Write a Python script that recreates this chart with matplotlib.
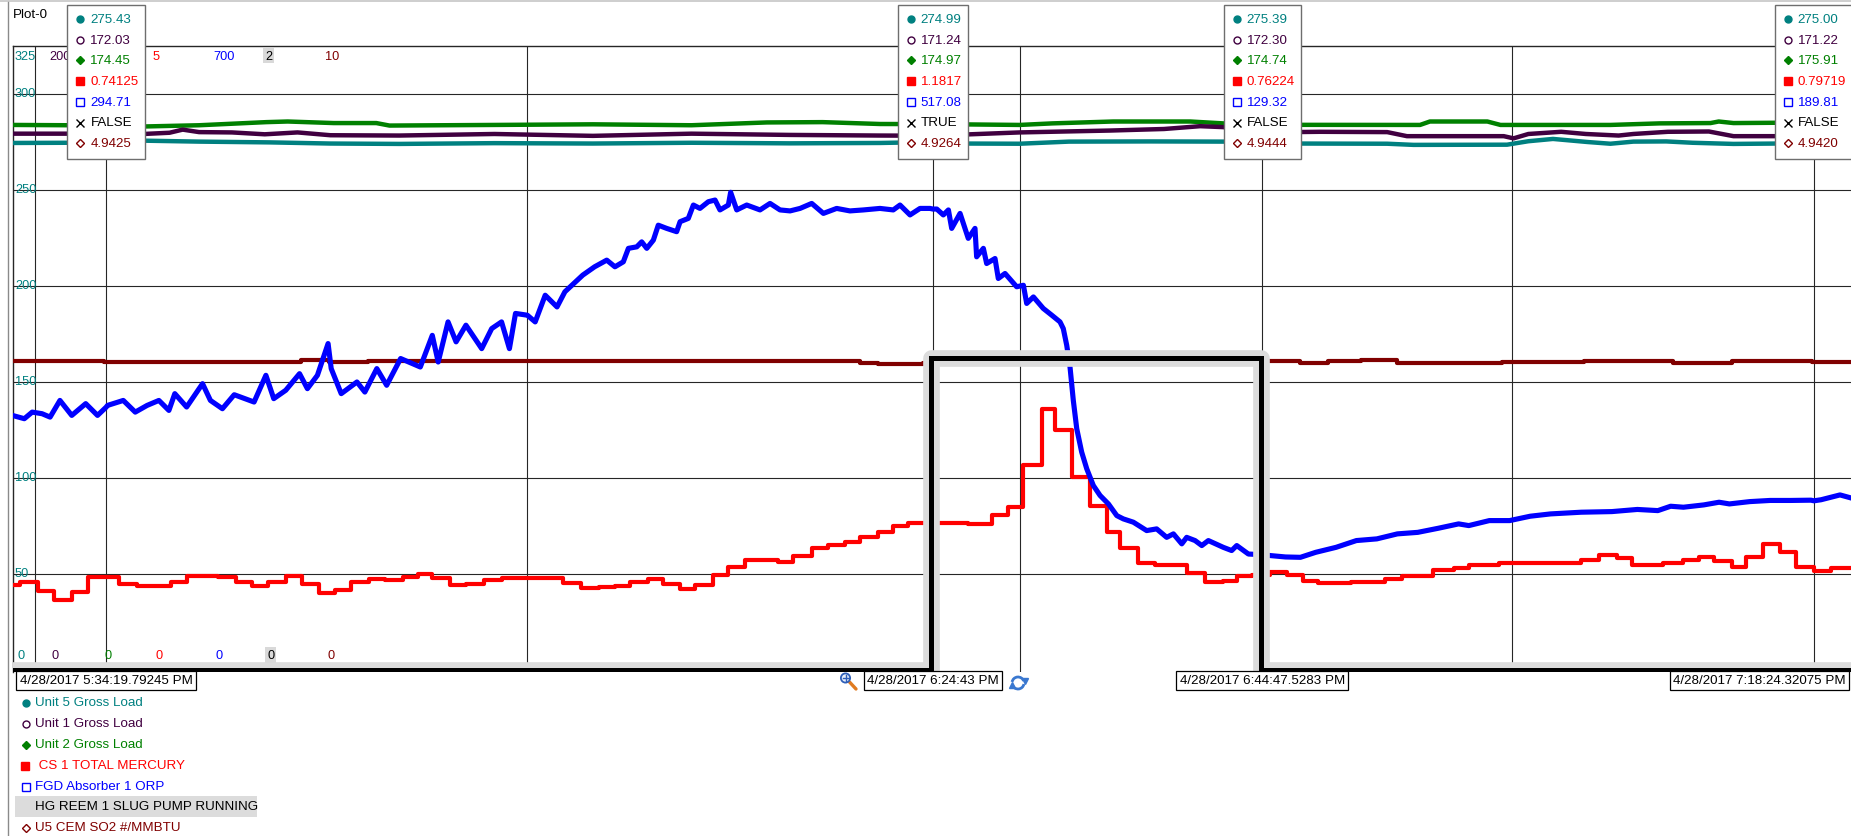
import numpy as np
import matplotlib
matplotlib.use('Agg')
import matplotlib.pyplot as plt
from matplotlib.lines import Line2D
from matplotlib.patches import Rectangle, Circle, Arc
from matplotlib.transforms import IdentityTransform, blended_transform_factory

plt.rcParams['font.family'] = ['Liberation Sans', 'DejaVu Sans']
plt.rcParams['font.size'] = 9.6

W, H = 1851, 837

# pens, in trend order; every scale runs from 0 to its top value
pen_names = ['Unit 5 Gross Load', 'Unit 1 Gross Load', 'Unit 2 Gross Load',
             ' CS 1 TOTAL MERCURY', 'FGD Absorber 1 ORP',
             'HG REEM 1 SLUG PUMP RUNNING', 'U5 CEM SO2 #/MMBTU']
pen_colors = ['#008080', '#400040', '#008000', '#ff0000', '#0000ff', '#000000', '#800000']
pen_top = [325, 200, 200, 5, 700, 2, 10]
pen_step = [False, False, False, True, False, True, True]
pen_marker = ['o', 'o', 'D', 's', 's', 'x', 'D']
pen_filled = [True, False, True, True, False, True, False]
pen_ms = [5, 5, 4, 5.5, 5.5, 5.5, 4.5]

# time = minutes after 5:30 PM
cursor_t = [4.32987, 54.71667, 74.79214, 108.40535]
cursor_stamps = ['4/28/2017 5:34:19.79245 PM', '4/28/2017 6:24:43 PM',
                 '4/28/2017 6:44:47.5283 PM', '4/28/2017 7:18:24.32075 PM']
grid_t = [0, 30, 60, 90]
grid_y = [50, 100, 150, 200, 250, 300]

u5_t = [-1.38, 2.1, 4.32987, 6.6, 10.0, 14.3, 18.0, 22.2, 28.0, 34.0,
        40.0, 46.0, 51.5, 54.71667, 56.5, 60.0, 63.0, 68.0, 72.4, 74.79214,
        76.5, 82.4, 84.0, 89.7, 91.0, 92.5, 94.6, 96.0, 97.4, 99.4,
        101.0, 103.5, 106.2, 108.40535, 110.7]
u5_v = [274.5, 274.6, 275.43, 275.7, 275.2, 274.8, 274.2, 274.0, 274.4, 274.2,
        274.6, 274.3, 274.5, 274.99, 274.2, 274.1, 275.2, 275.3, 275.2, 275.39,
        274.2, 274.1, 273.5, 273.6, 275.4, 276.6, 275.0, 274.1, 275.2, 275.3,
        274.6, 274.0, 274.2, 275.00, 274.4]

u1_t = [-1.38, 2.1, 4.32987, 6.6, 8.2, 9.0, 10.0, 12.0, 14.0, 16.0,
        18.0, 22.2, 28.0, 34.0, 40.0, 46.0, 51.5, 54.71667, 60.0, 65.5,
        68.8, 71.0, 72.4, 74.79214, 78.3, 82.4, 83.6, 89.5, 90.1, 91.0,
        93.0, 94.5, 96.5, 97.4, 99.5, 102.0, 103.5, 106.2, 108.40535, 110.7]
u1_v = [171.9, 171.9, 172.03, 171.8, 172.2, 173.2, 172.4, 172.3, 171.7, 172.3,
        171.4, 171.3, 171.8, 171.2, 171.9, 171.5, 171.3, 171.24, 172.3, 172.9,
        173.4, 174.3, 174.0, 172.30, 172.5, 172.4, 171.1, 171.1, 170.4, 171.8,
        172.5, 171.8, 171.3, 171.8, 172.5, 172.6, 171.1, 171.1, 171.22, 171.2]

u2_t = [-1.38, 2.1, 4.32987, 6.6, 10.0, 14.1, 15.4, 18.2, 20.8, 21.6,
        28.0, 34.0, 40.0, 44.6, 48.0, 51.5, 54.71667, 60.0, 62.0, 65.7,
        70.4, 72.4, 74.79214, 84.4, 85.0, 88.5, 89.3, 96.0, 99.0, 102.1,
        102.6, 103.5, 106.2, 108.40535, 110.7]
u2_v = [174.7, 174.6, 174.45, 174.2, 174.6, 175.6, 175.8, 175.3, 175.3, 174.5,
        174.7, 174.9, 174.6, 175.5, 175.6, 175.0, 174.97, 174.7, 175.2, 175.8,
        175.8, 175.2, 174.74, 174.7, 175.8, 175.8, 174.7, 174.7, 175.2, 175.3,
        175.8, 175.3, 175.4, 175.91, 175.6]

hg_t = [-1.38, -0.89, 0.19, 1.16, 2.24, 3.21, 5.14, 6.23, 8.28, 9.24,
        11.17, 12.26, 13.23, 14.19, 15.28, 16.24, 17.33, 18.29, 19.26, 20.35,
        21.31, 22.40, 23.36, 24.21, 25.29, 26.26, 27.35, 28.43, 32.17, 33.26,
        34.34, 35.34, 36.26, 37.37, 38.29, 39.31, 40.22, 41.33, 42.25, 43.27,
        45.30, 46.21, 47.33, 48.35, 49.36, 50.28, 51.39, 52.30, 53.22, 56.88,
        58.31, 59.27, 60.23, 61.35, 62.17, 63.18, 64.29, 65.31, 66.12, 67.24,
        68.26, 70.19, 71.30, 72.42, 73.23, 74.15, 75.26, 76.30, 77.26, 78.19,
        80.21, 82.24, 83.33, 85.19, 86.44, 87.37, 89.24, 94.22, 95.31, 96.40,
        97.33, 99.20, 100.45, 101.38, 102.31, 103.40, 104.24, 105.27, 106.36, 107.29,
        108.38, 109.47, 110.70]
hg_v = [0.681, 0.702, 0.636, 0.563, 0.622, 0.74125, 0.689, 0.676, 0.702, 0.751,
        0.742, 0.702, 0.676, 0.702, 0.751, 0.689, 0.616, 0.643, 0.707, 0.729,
        0.721, 0.742, 0.769, 0.734, 0.681, 0.689, 0.723, 0.734, 0.697, 0.654,
        0.662, 0.676, 0.702, 0.729, 0.689, 0.649, 0.681, 0.761, 0.823, 0.885,
        0.868, 0.911, 0.975, 1.002, 1.029, 1.069, 1.109, 1.157, 1.1817, 1.171,
        1.240, 1.308, 1.644, 2.091, 1.922, 1.545, 1.312, 1.103, 0.975, 0.857,
        0.842, 0.777, 0.702, 0.716, 0.752, 0.76224, 0.786, 0.761, 0.716, 0.697,
        0.707, 0.729, 0.751, 0.804, 0.815, 0.842, 0.857, 0.885, 0.922, 0.895,
        0.842, 0.857, 0.885, 0.903, 0.871, 0.823, 0.903, 1.011, 0.949, 0.826,
        0.79719, 0.820, 0.820]

orp_t = [-1.38, -0.65, -0.17, 0.43, 0.92, 1.52, 2.24, 3.09, 3.81, 4.32987,
         4.42, 5.38, 6.11, 6.83, 7.55, 8.16, 8.52, 9.24, 10.21, 10.69,
         11.42, 12.14, 13.35, 14.07, 14.55, 15.28, 16.12, 16.60, 17.21, 17.86,
         18.05, 18.66, 19.62, 20.10, 20.83, 21.43, 22.28, 23.48, 24.21, 24.57,
         25.17, 25.66, 26.26, 27.22, 27.83, 28.43, 28.91, 29.28, 30.00, 30.48,
         31.09, 31.81, 32.29, 33.38, 34.10,
         34.84, 35.34, 35.85, 36.16, 36.67, 36.97, 37.28, 37.68, 37.98, 38.49,
         39.10, 39.31, 39.81, 40.12, 40.52, 41.03, 41.44, 41.74, 42.25, 42.39,
         42.76, 43.37, 44.18, 44.79, 45.40, 46.01, 46.62, 47.33, 48.04, 48.85,
         49.66, 50.48, 51.49, 52.30, 52.71, 53.32, 53.93, 54.54, 54.71667, 54.95,
         55.35, 55.66, 55.86, 56.37, 56.87, 57.28, 57.38, 57.79, 57.99, 58.50,
         58.70, 59.11, 59.82, 60.23, 60.43, 60.84, 61.44, 61.96, 62.46, 62.66,
         62.87, 63.07, 63.27, 63.48, 63.78, 64.09, 64.49, 64.90, 65.41, 65.92,
         66.32, 66.93, 67.74, 68.35, 68.96, 69.37, 69.88, 70.18, 70.69, 71.10,
         71.50, 72.41, 72.92, 73.23, 73.94, 74.79214, 75.26, 76.20, 77.11, 78.04,
         79.28, 80.52, 81.77, 83.02, 84.26, 85.51, 86.75, 87.37, 88.62, 89.86,
         91.11, 92.35, 94.22, 96.09, 97.64, 98.89, 99.67, 100.45, 101.69, 102.62,
         103.25, 104.49, 105.73, 106.98, 108.22, 108.40535, 108.84, 109.99, 110.70]
orp_v = [285.6, 281.9, 289.3, 287.5, 283.7, 302.4, 285.6, 298.8, 285.6, 294.71,
         296.8, 302.4, 289.3, 296.8, 302.4, 291.2, 310.0, 295.0, 321.2, 302.4,
         293.1, 308.8, 300.6, 330.6, 304.4, 313.8, 332.4, 315.6, 330.6, 366.2,
         338.1, 310.0, 323.1, 311.8, 338.1, 319.4, 349.4, 339.9, 375.4, 345.5,
         390.5, 368.1, 386.8, 360.5, 383.0, 390.5, 360.5, 400.0, 398.0, 390.5,
         420.4, 407.3, 424.3, 443.0, 452.3,
         459.8, 452.3, 457.9, 473.0, 474.7, 480.3, 473.0, 482.2, 499.0, 495.4,
         491.7, 502.9, 506.6, 521.6, 517.8, 525.3, 527.2, 516.1, 521.6, 535.9,
         516.1, 521.6, 516.1, 523.4, 516.1, 515.0, 517.8, 523.4, 512.2, 517.8,
         515.0, 516.1, 517.8, 516.1, 521.6, 510.5, 517.8, 517.8, 517.08, 517.1,
         510.5, 516.1, 495.4, 512.2, 484.2, 495.4, 463.5, 473.0, 456.0, 461.6,
         439.2, 444.8, 429.9, 431.6, 411.2, 418.5, 405.6, 398.0, 390.5, 383.0,
         364.2, 339.9, 302.5, 270.7, 244.5, 225.7, 207.0, 195.8, 186.3, 173.2,
         169.5, 165.8, 156.4, 158.3, 148.8, 152.7, 141.5, 148.8, 145.2, 139.6,
         145.2, 137.6, 134.0, 139.6, 130.1, 129.32, 128.4, 126.8, 126.4, 132.0,
         137.6, 145.2, 147.1, 152.7, 154.4, 159.0, 163.9, 162.0, 167.6, 167.6,
         172.5, 175.1, 177.0, 177.7, 180.1, 178.8, 183.7, 182.6, 185.2, 188.2,
         186.3, 188.9, 190.2, 190.2, 190.5, 189.81, 191.0, 196.4, 192.8]

pump_t = [-1.38, 54.62, 74.72, 110.70]
pump_v = [0, 1, 0, 0]

so2_t = [-1.38, 4.18, 16.2, 17.9, 20.3, 27.4, 34.4, 50.28, 51.39, 54.1,
         74.7, 77.11, 78.8, 80.8, 83.0, 85.6, 89.4, 94.4, 99.8, 103.4,
         108.3, 110.70]
so2_v = [4.950, 4.9425, 4.965, 4.940, 4.955, 4.945, 4.953, 4.920, 4.900, 4.9264,
         4.9444, 4.920, 4.950, 4.960, 4.925, 4.915, 4.940, 4.953, 4.925, 4.945,
         4.9420, 4.9420]

pen_t = [u5_t, u1_t, u2_t, hg_t, orp_t, pump_t, so2_t]
pen_v = [u5_v, u1_v, u2_v, hg_v, orp_v, pump_v, so2_v]


def fx(x):
    return x / W


def fy(y):
    # y counted down from the top edge, like screen pixels
    return 1 - y / H


def readout(k, tc):
    t = np.asarray(pen_t[k])
    v = np.asarray(pen_v[k], dtype=float)
    if pen_step[k]:
        val = v[np.searchsorted(t, tc, side='right') - 1]
    else:
        val = np.interp(tc, t, v)
    if k == 5:
        return 'TRUE' if val >= 0.5 else 'FALSE'
    d = max(0, 4 - int(np.floor(np.log10(abs(val)))))
    return f'{val:.{d}f}'


fig = plt.figure(figsize=(W / 100, H / 100), dpi=100)
fig.patch.set_facecolor('white')

plot_left, plot_top, plot_bottom = 13, 47, 673.3
ax = fig.add_axes([fx(plot_left), fy(plot_bottom), 1 - fx(plot_left),
                   (plot_bottom - plot_top) / H])
ax.set_xlim(-1.34, 110.66)
ax.set_ylim(-1.2, 325)
ax.set_facecolor('white')

ax.set_xticks(grid_t)
ax.set_yticks(grid_y)
ax.tick_params(length=0, labelbottom=False, labelleft=False)
ax.grid(True, color='#262626', lw=0.8)
ax.set_axisbelow(True)
for side in ['right', 'bottom']:
    ax.spines[side].set_visible(False)
for side in ['left', 'top']:
    ax.spines[side].set_color('#262626')
    ax.spines[side].set_linewidth(1.0)

for tc in cursor_t:
    ax.axvline(tc, color='#262626', lw=0.8, zorder=1.5)

# trend lines, each on its own scale mapped onto the 0-325 frame
draw_order = [6, 2, 1, 0, 3, 4]
line_w = [3.2, 3.2, 3.2, 3.0, 3.7, 3.6, 3.0]
for z, k in enumerate(draw_order):
    y = np.asarray(pen_v[k], dtype=float) / pen_top[k] * 325
    ax.plot(pen_t[k], y, color=pen_colors[k], lw=line_w[k],
            drawstyle='steps-post' if pen_step[k] else 'default',
            solid_joinstyle='round', zorder=3 + z * 0.1)

# selected pen: slug pump, drawn with its grey highlight on top
pump_y = np.asarray(pump_v, dtype=float) / pen_top[5] * 325
ax.plot(pump_t, pump_y, color='#dcdcdc', lw=12, drawstyle='steps-post',
        solid_joinstyle='round', zorder=8)
ax.plot(pump_t, pump_y, color='black', lw=line_w[5], drawstyle='steps-post',
        solid_joinstyle='miter', zorder=9)

# left scale labels (Unit 5 scale)
tr = blended_transform_factory(fig.transFigure, ax.transData)
for v in grid_y:
    ax.text(fx(15), v + 0.4, str(v), transform=tr, color=pen_colors[0],
            fontsize=9.2, ha='left', va='center', zorder=2, clip_on=False)

# scale tops and bottoms of every pen
scale_x = [15, 49, 102, 153, 213, 265, 325]
for k in range(7):
    kw = dict(color=pen_colors[k], fontsize=9.2, ha='left', va='center', zorder=5)
    if k == 5:
        kw['bbox'] = dict(boxstyle='square,pad=0.15', fc='#d9d9d9', ec='none')
    fig.text(fx(scale_x[k]), fy(56.5), str(pen_top[k]), **kw)
    fig.text(fx(scale_x[k] + 2), fy(656), '0', **kw)

# widget frame
fig.add_artist(Rectangle((0, fy(3)), 1, 3 / H, transform=fig.transFigure,
                         fc='#cfcfcf', ec='none', zorder=20))
fig.add_artist(Line2D([fx(7.5), fx(7.5)], [0, fy(3)], transform=fig.transFigure,
                      color='#8a8a8a', lw=1, zorder=20))
fig.text(fx(13), fy(15), 'Plot-0', ha='left', va='center', zorder=5)


def marker(x, y, k, z):
    mfc = pen_colors[k] if pen_filled[k] else 'white'
    fig.add_artist(Line2D([fx(x)], [fy(y)], transform=fig.transFigure,
                          marker=pen_marker[k], ms=pen_ms[k], mfc=mfc,
                          mec=pen_colors[k], mew=1.0, ls='none', zorder=z))


# cursor readout boxes
renderer = fig.canvas.get_renderer()
row_y = [20 + 20.7 * k for k in range(7)]
for tc in cursor_t:
    cx = ax.transData.transform((tc, 0))[0]
    objs = []
    for k in range(7):
        objs.append(fig.text(0, fy(row_y[k]), readout(k, tc), color=pen_colors[k],
                             ha='left', va='center', fontsize=9.6, zorder=12))
    tw = max(o.get_window_extent(renderer).width for o in objs)
    bw = tw + 29
    left = min(cx - bw / 2, W + 1 - bw)
    fig.add_artist(Rectangle((fx(left), fy(160)), bw / W, 154 / H,
                             transform=fig.transFigure, fc='white', ec='#6e6e6e',
                             lw=1, zorder=11))
    for k, o in enumerate(objs):
        o.set_x(fx(left + 23))
        marker(left + 13, row_y[k], k, 12)

# time stamps under the cursors
for tc, stamp in zip(cursor_t, cursor_stamps):
    cx = ax.transData.transform((tc, 0))[0]
    t = fig.text(fx(cx), fy(681.5), stamp, ha='center', va='center', zorder=12,
                 bbox=dict(boxstyle='square,pad=0.25', fc='white', ec='black', lw=0.9))
    w = t.get_window_extent(renderer).width
    if cx + w / 2 > W - 4:
        t.set_x(fx(W - 5))
        t.set_ha('right')

# toolbar icons next to the second stamp
ident = IdentityTransform()
fig.add_artist(Line2D([849.5, 856], [H - 683, H - 690], transform=ident,
                      color='#e07b20', lw=2.4, solid_capstyle='round', zorder=13))
fig.add_artist(Circle((845.5, H - 679), 4.6, transform=ident, fc='#e6eefa',
                      ec='#2f5fb8', lw=1.3, zorder=13))
fig.add_artist(Line2D([842.5, 848.5], [H - 679, H - 679], transform=ident,
                      color='#2f5fb8', lw=1, zorder=14))
fig.add_artist(Line2D([845.5, 845.5], [H - 676, H - 682], transform=ident,
                      color='#2f5fb8', lw=1, zorder=14))
fig.add_artist(Arc((1018, H - 684), 12, 12, theta1=20, theta2=170, transform=ident,
                   color='#3a78d0', lw=2, zorder=13))
fig.add_artist(Arc((1018, H - 684), 12, 12, theta1=200, theta2=350, transform=ident,
                   color='#3a78d0', lw=2, zorder=13))
fig.add_artist(Line2D([1024.5], [H - 682], transform=ident, marker='v', ms=4,
                      color='#3a78d0', zorder=13))
fig.add_artist(Line2D([1011.5], [H - 686], transform=ident, marker='^', ms=4,
                      color='#3a78d0', zorder=13))

# pen list
leg_y = [703 + 20.9 * k for k in range(7)]
fig.add_artist(Rectangle((fx(15), fy(leg_y[5] + 10.5)), 242 / W, 21 / H,
                         transform=fig.transFigure, fc='#dcdcdc', ec='none', zorder=4))
for k in range(7):
    if k != 5:
        marker(25.5 if k != 3 else 24.5, leg_y[k] + 1, k, 6)
    fig.text(fx(35), fy(leg_y[k]), pen_names[k], color=pen_colors[k],
             ha='left', va='center', fontsize=9.6, zorder=6)

fig.savefig('out.png', dpi=100, facecolor='white')
